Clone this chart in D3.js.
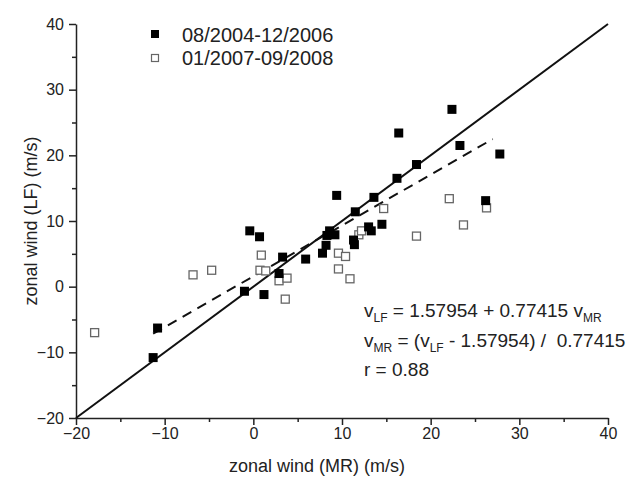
<!DOCTYPE html>
<html><head><meta charset="utf-8">
<script src="https://cdn.jsdelivr.net/npm/d3@7"></script>
<style>
html,body{margin:0;padding:0;background:#fff;}
text{font-family:"Liberation Sans",Arial,sans-serif;fill:#222;}
</style></head>
<body>
<svg id="chart" width="633" height="480"></svg>
<script>
// ---- data ----
const series1Label = "08/2004-12/2006";
const series2Label = "01/2007-09/2008";
const s1x = [-11.3,-10.8,-1.0,-0.4,0.7,1.2,2.9,3.3,5.9,7.8,8.2,8.3,8.6,9.2,9.4,11.3,11.4,11.5,13.0,13.3,13.6,14.5,16.2,16.4,18.4,22.4,23.3,26.2,27.8];
const s1y = [-10.8,-6.3,-0.7,8.5,7.6,-1.2,2.0,4.5,4.2,5.1,6.3,7.8,8.5,7.9,13.9,7.1,6.4,11.4,9.1,8.5,13.6,9.5,16.5,23.4,18.6,27.0,21.5,13.1,20.2];
const s2x = [-17.9,-6.8,-4.7,0.9,0.75,1.4,2.9,3.8,3.6,9.6,9.6,10.4,10.9,11.9,12.2,14.7,18.4,22.1,23.7,26.3];
const s2y = [-7.0,1.8,2.5,4.8,2.5,2.4,0.9,1.3,-1.9,5.1,2.7,4.6,1.2,7.9,8.5,11.9,7.7,13.4,9.4,12.0];
const fitIntercept = 1.57954, fitSlope = 0.77415;
const fitRange = [-11.3, 27.0];
const identityRange = [-20, 40];
const majorTicks = [-20,-10,0,10,20,30,40];
const minorTicks = [-15,-5,5,15,25,35];
const xTitle = "zonal wind (MR) (m/s)";
const yTitle = "zonal wind (LF) (m/s)";

// ---- layout ----
const svg = d3.select("#chart");
const L = 76, R = 608, T = 24, B = 418;
const x = d3.scaleLinear().domain([-20,40]).range([L,R]);
const y = d3.scaleLinear().domain([-20,40]).range([B,T]);

function axisStyle(g){
  g.selectAll("path.domain").attr("stroke","#222").attr("stroke-width",1.5);
  g.selectAll(".tick line").attr("stroke","#222").attr("stroke-width",1.5);
  g.selectAll(".tick text").style("font-size","16px").attr("fill","#222");
}
// x axis
svg.append("g").attr("transform",`translate(0,${B})`)
  .call(d3.axisBottom(x).tickValues(majorTicks).tickSize(7).tickPadding(3).tickSizeOuter(0))
  .call(axisStyle);
svg.append("g").attr("transform",`translate(0,${B})`)
  .call(d3.axisBottom(x).tickValues(minorTicks).tickSize(4).tickFormat("").tickSizeOuter(0))
  .call(g=>g.select(".domain").remove()).call(axisStyle);
// y axis
svg.append("g").attr("transform",`translate(${L},0)`)
  .call(d3.axisLeft(y).tickValues(majorTicks).tickSize(7).tickPadding(5).tickSizeOuter(0))
  .call(axisStyle);
svg.append("g").attr("transform",`translate(${L},0)`)
  .call(d3.axisLeft(y).tickValues(minorTicks).tickSize(4).tickFormat("").tickSizeOuter(0))
  .call(g=>g.select(".domain").remove()).call(axisStyle);

// axis titles
svg.append("text").attr("x",317).attr("y",472).attr("text-anchor","middle")
  .style("font-size","18px").text(xTitle);
svg.append("text").attr("transform",`translate(37,221) rotate(-90)`).attr("text-anchor","middle")
  .style("font-size","18px").text(yTitle);

// lines
const line = d3.line().x(d=>x(d[0])).y(d=>y(d[1]));
svg.append("path").attr("d", line(identityRange.map(v=>[v,v])))
  .attr("fill","none").attr("stroke","#111").attr("stroke-width",2);
svg.append("path").attr("d", line(fitRange.map(v=>[v, fitIntercept + fitSlope*v])))
  .attr("fill","none").attr("stroke","#111").attr("stroke-width",2).attr("stroke-dasharray","10,7");

// points
const ms = 9;
svg.append("g").selectAll("rect").data(s2x.map((v,i)=>[v,s2y[i]])).join("rect")
  .attr("x",d=>x(d[0])-ms/2+0.5).attr("y",d=>y(d[1])-ms/2+0.5).attr("width",ms-1).attr("height",ms-1)
  .attr("fill","#fff").attr("stroke","#666").attr("stroke-width",1.3);
svg.append("g").selectAll("rect").data(s1x.map((v,i)=>[v,s1y[i]])).join("rect")
  .attr("x",d=>x(d[0])-ms/2).attr("y",d=>y(d[1])-ms/2).attr("width",ms).attr("height",ms)
  .attr("fill","#000");

// legend
svg.append("rect").attr("x",151).attr("y",30).attr("width",8).attr("height",8).attr("fill","#000");
svg.append("rect").attr("x",151.5).attr("y",54.5).attr("width",7).attr("height",7)
  .attr("fill","#fff").attr("stroke","#666").attr("stroke-width",1.2);
svg.append("text").attr("x",182).attr("y",42).style("font-size","20px").text(series1Label);
svg.append("text").attr("x",182).attr("y",65).style("font-size","20px").text(series2Label);

// equation text
const eq = svg.append("g").style("font-size","19px");
function sub(t, s){ t.append("tspan").attr("dy",5).style("font-size","12px").text(s); }
const t1 = eq.append("text").attr("x",364).attr("y",317);
t1.append("tspan").text("v"); sub(t1,"LF");
t1.append("tspan").attr("dy",-5).text(` = ${fitIntercept} + ${fitSlope} v`); sub(t1,"MR");
const t2 = eq.append("text").attr("x",364).attr("y",347);
t2.append("tspan").text("v"); sub(t2,"MR");
t2.append("tspan").attr("dy",-5).text(" = (v"); sub(t2,"LF");
t2.append("tspan").attr("dy",-5).text(` - ${fitIntercept}) /  ${fitSlope}`).attr("xml:space","preserve");
eq.append("text").attr("x",364).attr("y",376).text("r = 0.88");
</script>
</body></html>
